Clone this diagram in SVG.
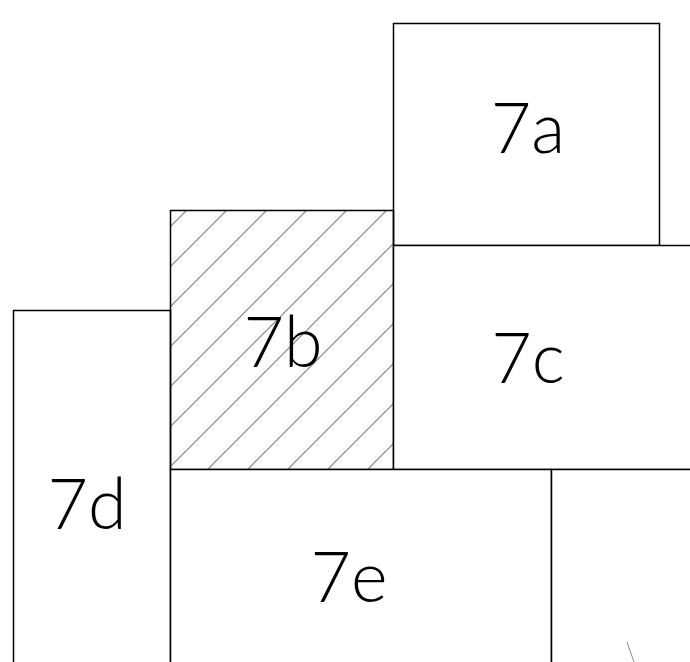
<svg xmlns="http://www.w3.org/2000/svg" width="690" height="662" viewBox="0 0 690 662">
<style>
.box{fill:#fff;stroke:#000;stroke-width:1.5}
.lbl{font-family:"Lato","Liberation Sans",Arial,sans-serif;font-weight:300;font-size:70px;fill:#000;text-anchor:middle}
</style>
<defs>
<pattern id="hatch" patternUnits="userSpaceOnUse" width="40" height="40" x="187" y="210">
<path d="M-40,40 L40,-40 M0,40 L40,0 M-10,50 L50,-10" stroke="#808080" stroke-width="1.2"/>
</pattern>
</defs>
<rect width="690" height="662" fill="#fff"/>
<g id="n7a"><rect class="box" x="393.5" y="23.5" width="266" height="222"/><text class="lbl" x="528" y="153">7a</text></g>
<g id="n7d"><rect class="box" x="13.5" y="310.5" width="157" height="360" stroke-width="1"/><text class="lbl" x="87" y="529">7d</text></g>
<g id="n7b"><rect x="170.5" y="210.5" width="223" height="259" fill="url(#hatch)" stroke="#000" stroke-width="1.5"/><text class="lbl" x="283" y="367">7b</text></g>
<g id="n7c"><rect class="box" x="393.5" y="245.5" width="310" height="224"/><text class="lbl" x="528" y="383">7c</text></g>
<g id="n7e"><rect class="box" x="170.5" y="469.5" width="381" height="210" stroke-width="2"/><text class="lbl" x="349" y="602">7e</text></g>
<g id="n7f"><rect class="box" x="551.5" y="469.5" width="160" height="210" stroke-width="2"/></g>
<g id="connectors"><line x1="627" y1="642" x2="634" y2="662" stroke="#888" stroke-width="1"/></g>
</svg>
